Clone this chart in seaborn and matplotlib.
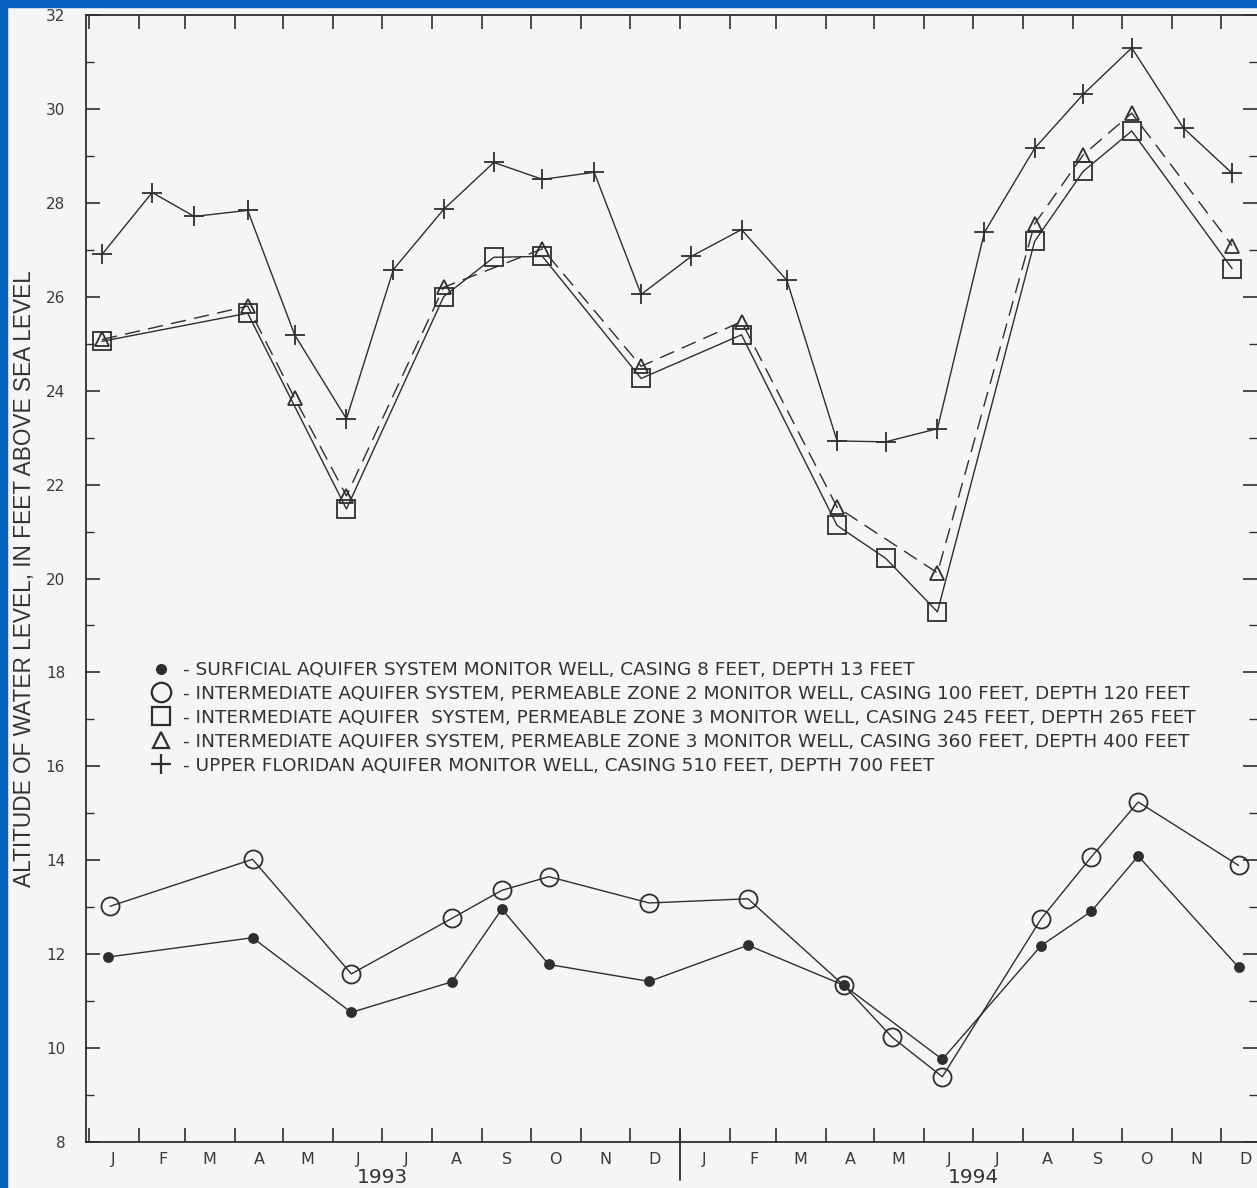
import matplotlib
matplotlib.use("Agg")
import matplotlib.pyplot as plt
import matplotlib.dates as mdates
from matplotlib.ticker import MultipleLocator, NullFormatter, FuncFormatter
from matplotlib.lines import Line2D
from matplotlib.patches import Rectangle
import pandas as pd
import seaborn as sns

# Upper Floridan aquifer well (+), casing 510 ft
upper_dates = ["1993-01-09", "1993-02-09", "1993-03-07", "1993-04-09", "1993-05-08", "1993-06-09",
               "1993-07-08", "1993-08-08", "1993-09-08", "1993-10-08", "1993-11-09", "1993-12-08",
               "1994-01-08", "1994-02-08", "1994-03-08", "1994-04-08", "1994-05-08", "1994-06-09",
               "1994-07-08", "1994-08-08", "1994-09-07", "1994-10-07", "1994-11-08", "1994-12-08"]
upper_vals = [26.90, 28.22, 27.71, 27.84, 25.19, 23.40, 26.58, 27.86, 28.86, 28.50, 28.65, 26.05,
              26.86, 27.43, 26.35, 22.93, 22.91, 23.19, 27.37, 29.16, 30.31, 31.30, 29.59, 28.63]

# permeable zone 3, casing 245 ft (square)
pz3a_dates = ["1993-01-09", "1993-04-09", "1993-06-09", "1993-08-08", "1993-09-08", "1993-10-08",
              "1993-12-08", "1994-02-08", "1994-04-08", "1994-05-08", "1994-06-09", "1994-08-08",
              "1994-09-07", "1994-10-07", "1994-12-08"]
pz3a_vals = [25.05, 25.65, 21.48, 26.00, 26.84, 26.86, 24.26, 25.19, 21.13, 20.43, 19.29, 27.18,
             28.67, 29.53, 26.60]

# permeable zone 3, casing 360 ft (triangle)
pz3b_dates = ["1993-01-09", "1993-04-09", "1993-05-08", "1993-06-09", "1993-08-08", "1993-10-08",
              "1993-12-08", "1994-02-08", "1994-04-08", "1994-06-09", "1994-08-08", "1994-09-07",
              "1994-10-07", "1994-12-08"]
pz3b_vals = [25.09, 25.80, 23.84, 21.76, 26.20, 27.02, 24.52, 25.47, 21.52, 20.12, 27.55, 29.02,
             29.91, 27.09]

# permeable zone 2, casing 100 ft (circle)
pz2_dates = ["1993-01-14", "1993-04-12", "1993-06-12", "1993-08-13", "1993-09-13", "1993-10-12",
             "1993-12-13", "1994-02-12", "1994-04-12", "1994-05-12", "1994-06-12", "1994-08-12",
             "1994-09-12", "1994-10-11", "1994-12-12"]
pz2_vals = [13.02, 14.02, 11.58, 12.76, 13.36, 13.65, 13.09, 13.18, 11.34, 10.23, 9.39, 12.75,
            14.07, 15.24, 13.89]

# surficial aquifer well (dot)
surf_dates = ["1993-01-13", "1993-04-12", "1993-06-12", "1993-08-13", "1993-09-13", "1993-10-12",
              "1993-12-13", "1994-02-12", "1994-04-12", "1994-06-12", "1994-08-12", "1994-09-12",
              "1994-10-11", "1994-12-12"]
surf_vals = [11.94, 12.35, 10.76, 11.41, 12.96, 11.78, 11.42, 12.19, 11.34, 9.76, 12.18, 12.91,
             14.09, 11.72]

legend_labels = [
    "- SURFICIAL AQUIFER SYSTEM MONITOR WELL, CASING 8 FEET, DEPTH 13 FEET",
    "- INTERMEDIATE AQUIFER SYSTEM, PERMEABLE ZONE 2 MONITOR WELL, CASING 100 FEET, DEPTH 120 FEET",
    "- INTERMEDIATE AQUIFER  SYSTEM, PERMEABLE ZONE 3 MONITOR WELL, CASING 245 FEET, DEPTH 265 FEET",
    "- INTERMEDIATE AQUIFER SYSTEM, PERMEABLE ZONE 3 MONITOR WELL, CASING 360 FEET, DEPTH 400 FEET",
    "- UPPER FLORIDAN AQUIFER MONITOR WELL, CASING 510 FEET, DEPTH 700 FEET",
]
ylabel = "ALTITUDE OF WATER LEVEL, IN FEET ABOVE SEA LEVEL"
years = ["1993", "1994"]

sns.set_style("ticks")
plt.rcParams["font.family"] = ["DejaVu Sans"]

INK = "#2e2e2e"
PAPER = "#f5f5f5"
BLUE = "#0560c2"
W, H = 1257, 1188

fig = plt.figure(figsize=(W / 100, H / 100), dpi=100, facecolor=PAPER)
ax = fig.add_axes([86 / W, (H - 1142) / H, (W - 86) / W, (1142 - 15) / H])
ax.set_facecolor(PAPER)

line_kw = dict(color=INK, linewidth=1.0, markeredgecolor=INK, markeredgewidth=1.3)

sns.lineplot(x=pd.to_datetime(upper_dates), y=upper_vals, ax=ax, marker="+",
             markersize=15, **line_kw)
sns.lineplot(x=pd.to_datetime(pz3a_dates), y=pz3a_vals, ax=ax, marker="s",
             markersize=13, markerfacecolor="none", **line_kw)
sns.lineplot(x=pd.to_datetime(pz3b_dates), y=pz3b_vals, ax=ax, marker="^",
             markersize=10, markerfacecolor="none", linestyle=(0, (11, 6)), **line_kw)
sns.lineplot(x=pd.to_datetime(pz2_dates), y=pz2_vals, ax=ax, marker="o",
             markersize=13, markerfacecolor="none", **line_kw)
sns.lineplot(x=pd.to_datetime(surf_dates), y=surf_vals, ax=ax, marker="o",
             markersize=6.5, markerfacecolor=INK, **line_kw)

px_day = 591 / 365.0
start = pd.Timestamp("1993-01-01")
ax.set_xlim(start - pd.Timedelta(days=3 / px_day), start + pd.Timedelta(days=(W - 89) / px_day))
ax.set_ylim(8, 32)

# axes styling
for side in ["left", "bottom", "top"]:
    ax.spines[side].set_visible(True)
    ax.spines[side].set_color(INK)
    ax.spines[side].set_linewidth(1.3)
ax.spines["right"].set_visible(False)

ax.xaxis.set_major_locator(mdates.MonthLocator())
ax.xaxis.set_major_formatter(NullFormatter())
ax.xaxis.set_minor_locator(mdates.MonthLocator(bymonthday=16))
ax.xaxis.set_minor_formatter(FuncFormatter(lambda v, p: mdates.num2date(v).strftime("%b")[0]))
ax.tick_params(axis="x", which="major", direction="in", length=10, width=1.2, color=INK,
               top=True, bottom=True)
ax.tick_params(axis="x", which="minor", length=0, pad=7, labelsize=11.5, labelcolor="#3a3a3a")

ax.set_yticks(range(8, 33, 2))
ax.yaxis.set_minor_locator(MultipleLocator(1))
ax.tick_params(axis="y", which="major", direction="in", length=10, width=1.2, color=INK,
               left=True, right=True, pad=15, labelsize=11, labelcolor="#3a3a3a")
ax.tick_params(axis="y", which="minor", direction="in", length=6, width=1.0, color=INK,
               left=True, right=True)

ax.set_xlabel("")
ax.set_ylabel(ylabel, fontsize=16.3, color="#333333", family=["Liberation Sans", "DejaVu Sans"])
ax.yaxis.set_label_coords(-0.043, 0.5)

# year labels and year separator
for yr in years:
    ax.text(pd.Timestamp(f"{yr}-07-01"), -0.040, yr, transform=ax.get_xaxis_transform(),
            ha="center", va="bottom", fontsize=14.5, color="#333333")
ax.axvline(pd.Timestamp("1994-01-01"), ymin=-0.0337, ymax=0.0106, clip_on=False,
           color=INK, linewidth=1.3)

# legend with markers only
handles = [
    Line2D([], [], ls="none", marker="o", ms=7, mfc=INK, mec=INK),
    Line2D([], [], ls="none", marker="o", ms=14, mfc="none", mec=INK, mew=1.6),
    Line2D([], [], ls="none", marker="s", ms=13, mfc="none", mec=INK, mew=1.6),
    Line2D([], [], ls="none", marker="^", ms=11, mfc="none", mec=INK, mew=1.6),
    Line2D([], [], ls="none", marker="+", ms=15, mec=INK, mew=1.6),
]
leg = fig.legend(handles, legend_labels, loc="upper left", bbox_to_anchor=(153 / W, (H - 661) / H),
                 frameon=False, fontsize=13.3, handlelength=0.9, handletextpad=0.75,
                 labelspacing=0.32, borderpad=0, borderaxespad=0)
for t in leg.get_texts():
    t.set_color("#333333")

# scanned page blue border (top and left)
fig.add_artist(Rectangle((0, 1 - 7 / H), 1, 7 / H, transform=fig.transFigure,
                         color=BLUE, zorder=10))
fig.add_artist(Rectangle((0, 0), 7 / W, 1, transform=fig.transFigure, color=BLUE, zorder=10))

fig.savefig("out.png", dpi=100, facecolor=PAPER)
